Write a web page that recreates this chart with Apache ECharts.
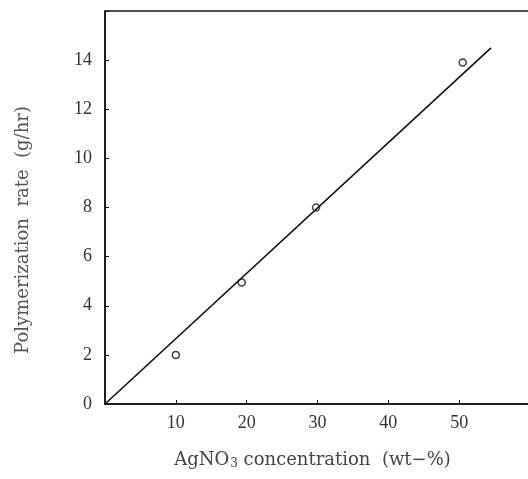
<!DOCTYPE html>
<html>
<head>
<meta charset="utf-8">
<script src="https://cdn.jsdelivr.net/npm/echarts@6/dist/echarts.min.js"></script>
<style>html,body{margin:0;padding:0;background:#fff;}#c{width:528px;height:479px;}</style>
</head>
<body>
<div id="c"></div>
<script>
// Measured data points
const concentration = [10, 19.3, 29.8, 50.5];
const rate = [2.0, 4.95, 8.0, 13.9];
// Fitted straight line end points
const fitX = [0, 54.5];
const fitY = [0, 14.5];
const yLabel = 'Polymerization  rate  (g/hr)';

const chart = echarts.init(document.getElementById('c'));
const font = '"Liberation Serif", "DejaVu Serif", serif';
const nameFont = '"DejaVu Serif", serif';
chart.setOption({
  animation: false,
  backgroundColor: '#fff',
  grid: {left: 105, top: 11, bottom: 75, right: -2, outerBoundsMode: 'none', containLabel: false,
         show: true, borderColor: '#111', borderWidth: 1.5, backgroundColor: 'transparent'},
  xAxis: {
    type: 'value', min: 0, max: 60, interval: 10,
    name: '{a|AgNO}{s|3}{a| concentration  (wt−%)}',
    nameLocation: 'middle', nameGap: 46,
    nameTextStyle: {padding: [0, 10, 0, 0], rich: {
      a: {fontFamily: nameFont, fontSize: 18, color: '#444'},
      s: {fontFamily: nameFont, fontSize: 12, color: '#444', padding: [8, 0, 0, 1]}
    }},
    axisLine: {lineStyle: {color: '#111', width: 1.5}},
    axisTick: {inside: true, length: 4, lineStyle: {color: '#111'}},
    splitLine: {show: false},
    axisLabel: {fontFamily: font, fontSize: 18, color: '#333', margin: 10,
      formatter: v => (v === 0 || v === 60) ? '' : String(v)}
  },
  yAxis: {
    type: 'value', min: 0, max: 16, interval: 2,
    name: yLabel, nameLocation: 'middle', nameGap: 73,
    nameTextStyle: {fontFamily: nameFont, fontSize: 18, color: '#555', padding: [0, 45, 0, 0]},
    axisLine: {lineStyle: {color: '#111', width: 1.5}},
    axisTick: {inside: true, length: 4, lineStyle: {color: '#111'}},
    splitLine: {show: false},
    axisLabel: {fontFamily: font, fontSize: 18, color: '#333', margin: 13,
      formatter: v => v === 16 ? '' : String(v)}
  },
  series: [
    {type: 'line', data: fitX.map((x, i) => [x, fitY[i]]), showSymbol: false, symbol: 'none',
     lineStyle: {color: '#111', width: 1.6}, silent: true},
    {type: 'scatter', data: concentration.map((x, i) => [x, rate[i]]), symbol: 'circle', symbolSize: 7,
     itemStyle: {color: '#fff', borderColor: '#111', borderWidth: 1.5}}
  ]
});
</script>
</body>
</html>
